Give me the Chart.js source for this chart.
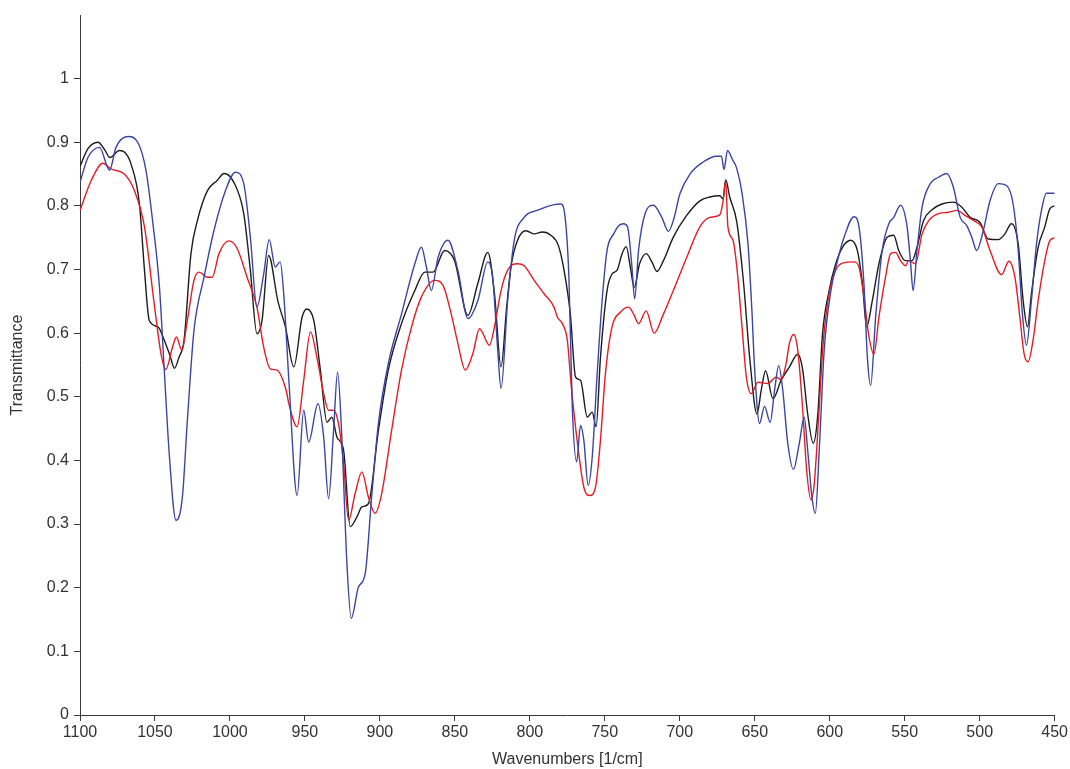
<!DOCTYPE html>
<html>
<head>
<meta charset="utf-8">
<script src="https://cdn.jsdelivr.net/npm/chart.js@4.4.1/dist/chart.umd.min.js"></script>
<style>
  html, body { margin: 0; padding: 0; background: #fff; }
  #wrap { width: 1070px; height: 769px; }
</style>
</head>
<body>
<div id="wrap"><canvas id="spectrum" width="1070" height="769"></canvas></div>
<script>
// wavenumbers [1/cm] and transmittance
const blackWn = [1100, 1094.7, 1088, 1083.5, 1080, 1073.7, 1070, 1066, 1060.4, 1057, 1053.8, 1048, 1043.8, 1040, 1037, 1034, 1030.6, 1026, 1021.7, 1015, 1008.5, 1004, 997.4, 990.8, 986.4, 982, 978.6, 974.2, 968, 963, 957.4, 951.9, 948.6, 944.1, 939.7, 935.3, 932, 928.7, 924.2, 919.8, 915.4, 912, 907.7, 901, 894.4, 885.6, 876.7, 870, 864.5, 856.8, 850.2, 841.3, 834.7, 828, 823.5, 819.2, 815.5, 812.6, 808.2, 802.6, 797, 791.6, 786, 781, 777.2, 773, 769.5, 766.2, 761.7, 758.4, 755.8, 752.9, 748.5, 745.2, 741.8, 738.5, 735.7, 733, 730.4, 726.8, 722.4, 718.6, 715.3, 710.9, 704.3, 695.4, 686.6, 680, 673.3, 671.1, 669.4, 666.7, 662, 657.5, 653.4, 648.5, 645.7, 642.8, 637.9, 632.4, 626.9, 621.3, 618, 614.7, 611, 608.1, 604.8, 600.4, 596, 591.5, 586, 581.6, 578.2, 575.4, 571.6, 567.2, 561.6, 557.3, 554, 549.5, 545.1, 541.8, 537.4, 531.8, 525.2, 517.5, 511.9, 506.4, 499.8, 494.3, 487.6, 483.2, 478.8, 474.3, 471, 468.1, 465.5, 461, 456.6, 453.3, 450];
const blackT = [0.862, 0.89, 0.90, 0.888, 0.876, 0.887, 0.884, 0.866, 0.804, 0.699, 0.62, 0.61, 0.589, 0.565, 0.545, 0.562, 0.589, 0.725, 0.777, 0.824, 0.84, 0.851, 0.837, 0.788, 0.699, 0.599, 0.62, 0.722, 0.65, 0.61, 0.547, 0.625, 0.638, 0.62, 0.542, 0.46, 0.468, 0.437, 0.416, 0.296, 0.311, 0.327, 0.332, 0.447, 0.542, 0.615, 0.667, 0.696, 0.696, 0.73, 0.714, 0.628, 0.678, 0.727, 0.66, 0.547, 0.64, 0.704, 0.746, 0.761, 0.756, 0.759, 0.754, 0.738, 0.699, 0.63, 0.531, 0.526, 0.468, 0.476, 0.453, 0.562, 0.667, 0.693, 0.699, 0.725, 0.736, 0.704, 0.672, 0.709, 0.725, 0.712, 0.697, 0.714, 0.751, 0.785, 0.808, 0.814, 0.816, 0.811, 0.841, 0.814, 0.775, 0.68, 0.562, 0.473, 0.51, 0.541, 0.497, 0.526, 0.547, 0.567, 0.542, 0.473, 0.427, 0.468, 0.599, 0.667, 0.709, 0.735, 0.746, 0.73, 0.678, 0.61, 0.651, 0.709, 0.751, 0.754, 0.73, 0.714, 0.714, 0.735, 0.777, 0.794, 0.803, 0.806, 0.798, 0.782, 0.774, 0.748, 0.747, 0.756, 0.772, 0.74, 0.651, 0.61, 0.662, 0.735, 0.767, 0.795, 0.80];

const redWn = [1100, 1092.5, 1084.7, 1079.2, 1070.4, 1063.7, 1057, 1050.5, 1046, 1042.8, 1038.3, 1035.7, 1032.1, 1028.4, 1024, 1020.6, 1015.1, 1011.8, 1007.3, 1000.7, 995.2, 988.6, 982, 977.5, 973.1, 968.7, 962.5, 960.7, 955.2, 950.8, 946.3, 942, 937.5, 934.2, 930.9, 927.6, 924.2, 920.9, 916.5, 912, 907.7, 903.2, 898.8, 892.2, 885.6, 878.9, 872.3, 863.5, 857.9, 852.4, 848, 843.1, 838, 833.6, 826.9, 823.6, 819.2, 814.8, 808.2, 803.8, 797.1, 790.5, 783.9, 781.6, 778.3, 775, 772.5, 768.4, 764, 760, 756.2, 752.9, 749.6, 745.2, 739.6, 734.1, 730.8, 727.5, 722.4, 717.1, 710.9, 704.3, 695.4, 686.6, 680, 673.3, 671.1, 669.4, 667.9, 664.5, 662, 658.5, 655.6, 652.3, 647.9, 641.3, 635.7, 632.4, 629.1, 626.9, 624, 621.3, 618, 615.4, 612.5, 610.3, 607.4, 604.4, 600.4, 596, 591.5, 583.8, 580.5, 577.2, 573.8, 570.5, 567.2, 562.8, 559.4, 556.1, 552.8, 549.5, 547.3, 542.9, 538.4, 534, 527.4, 520.8, 515.3, 509.7, 504.2, 498.6, 493.1, 485.4, 480.5, 476.5, 473.2, 470.4, 467.7, 464.4, 461, 456.6, 453.3, 450];
const redT = [0.793, 0.84, 0.867, 0.858, 0.85, 0.824, 0.767, 0.646, 0.568, 0.543, 0.578, 0.594, 0.573, 0.62, 0.683, 0.696, 0.688, 0.688, 0.725, 0.745, 0.733, 0.688, 0.641, 0.578, 0.544, 0.542, 0.51, 0.489, 0.453, 0.526, 0.602, 0.562, 0.505, 0.479, 0.479, 0.458, 0.395, 0.306, 0.348, 0.382, 0.343, 0.317, 0.348, 0.447, 0.542, 0.61, 0.657, 0.683, 0.675, 0.63, 0.584, 0.542, 0.568, 0.607, 0.581, 0.61, 0.667, 0.699, 0.709, 0.706, 0.683, 0.662, 0.641, 0.625, 0.615, 0.589, 0.52, 0.43, 0.358, 0.345, 0.358, 0.432, 0.536, 0.61, 0.633, 0.641, 0.63, 0.615, 0.635, 0.60, 0.63, 0.667, 0.719, 0.767, 0.782, 0.786, 0.808, 0.84, 0.767, 0.746, 0.705, 0.61, 0.531, 0.505, 0.523, 0.521, 0.531, 0.527, 0.552, 0.584, 0.598, 0.573, 0.479, 0.385, 0.338, 0.364, 0.468, 0.584, 0.662, 0.699, 0.71, 0.712, 0.704, 0.657, 0.594, 0.567, 0.625, 0.688, 0.725, 0.727, 0.714, 0.706, 0.714, 0.709, 0.756, 0.777, 0.788, 0.79, 0.793, 0.785, 0.777, 0.767, 0.73, 0.692, 0.713, 0.688, 0.625, 0.568, 0.555, 0.589, 0.651, 0.714, 0.745, 0.75];

const blueWn = [1100, 1094.7, 1087, 1080.3, 1076, 1068, 1061.5, 1056, 1051.6, 1047, 1043.8, 1040.5, 1036, 1031.7, 1028.4, 1024, 1017.3, 1010.7, 1003, 996.3, 990.8, 986.4, 982, 977.5, 973.8, 969.8, 966.5, 964, 960.7, 955.2, 950.8, 947.5, 941.3, 937.5, 934.2, 930.9, 928.2, 925.4, 922, 919.1, 914.3, 909.8, 905.5, 901, 894.4, 885.6, 876.7, 872.3, 869, 865.7, 861.2, 854.6, 848, 841.3, 834.7, 828, 824.8, 821.4, 819.2, 814.8, 810.4, 803.8, 795.1, 783.9, 779.4, 776.8, 773.9, 771.7, 768.8, 766.2, 764, 761.1, 758.4, 755.1, 751.8, 748.5, 744.1, 740.7, 737.4, 734.8, 731.9, 730.1, 727.5, 723.1, 717.5, 712, 707.6, 704.3, 699.9, 693.2, 684.4, 675.5, 672.2, 670.5, 668.2, 664.5, 662.3, 658.5, 654.5, 652, 650, 646.8, 643.5, 639.7, 636.8, 634, 631.3, 628, 624.2, 620.3, 617, 614.7, 611.9, 609.6, 607, 603.7, 599.2, 594.8, 590.4, 583.8, 580.5, 577.2, 574.9, 572.7, 569.4, 565, 560.6, 557.3, 552.8, 548.4, 546.2, 544.4, 541.8, 538.4, 532.9, 527.4, 521.9, 517.5, 513, 508.6, 505.3, 502, 497.6, 493.1, 487.6, 482.1, 477.7, 474.3, 471.7, 468.8, 465.5, 462.1, 458.8, 455.5, 450];
const blueT = [0.837, 0.876, 0.892, 0.856, 0.892, 0.909, 0.90, 0.856, 0.777, 0.672, 0.542, 0.411, 0.306, 0.343, 0.463, 0.604, 0.688, 0.761, 0.824, 0.853, 0.835, 0.751, 0.641, 0.693, 0.747, 0.704, 0.712, 0.657, 0.526, 0.345, 0.479, 0.429, 0.489, 0.437, 0.34, 0.447, 0.539, 0.437, 0.238, 0.152, 0.201, 0.222, 0.343, 0.458, 0.552, 0.63, 0.709, 0.735, 0.704, 0.667, 0.719, 0.746, 0.699, 0.623, 0.651, 0.712, 0.688, 0.573, 0.513, 0.651, 0.746, 0.782, 0.793, 0.802, 0.803, 0.788, 0.685, 0.484, 0.398, 0.455, 0.432, 0.361, 0.405, 0.536, 0.651, 0.73, 0.756, 0.769, 0.772, 0.767, 0.704, 0.654, 0.73, 0.788, 0.801, 0.782, 0.76, 0.777, 0.819, 0.85, 0.869, 0.878, 0.878, 0.857, 0.887, 0.871, 0.861, 0.82, 0.74, 0.64, 0.54, 0.458, 0.485, 0.46, 0.51, 0.549, 0.51, 0.427, 0.386, 0.427, 0.468, 0.416, 0.343, 0.317, 0.416, 0.573, 0.667, 0.714, 0.751, 0.783, 0.767, 0.678, 0.562, 0.518, 0.625, 0.73, 0.772, 0.782, 0.801, 0.767, 0.714, 0.667, 0.73, 0.798, 0.835, 0.845, 0.851, 0.829, 0.782, 0.769, 0.751, 0.73, 0.761, 0.808, 0.835, 0.832, 0.803, 0.73, 0.636, 0.581, 0.651, 0.74, 0.793, 0.82, 0.82];

function pairs(wn, t) {
    return wn.map((w, i) => ({ x: w, y: t[i] }));
}

function line(label, wn, t, color) {
    return {
        label: label,
        data: pairs(wn, t),
        borderColor: color,
        borderWidth: 1.4,
        pointRadius: 0,
        fill: false,
        cubicInterpolationMode: 'monotone'
    };
}

const axisColor = '#3a3a3a';
const tickFont = { family: 'Liberation Sans, Arial, sans-serif', size: 16 };

new Chart(document.getElementById('spectrum'), {
    type: 'line',
    data: {
        datasets: [
            line('Sample 3', blueWn, blueT, '#3b45a3'),
            line('Sample 2', redWn, redT, '#e51c23'),
            line('Sample 1', blackWn, blackT, '#1c1c1c')
        ]
    },
    options: {
        responsive: false,
        animation: false,
        layout: { padding: { top: 15, right: 14, left: 0, bottom: 0 } },
        plugins: { legend: { display: false }, tooltip: { enabled: false } },
        scales: {
            x: {
                type: 'linear',
                min: 450,
                max: 1100,
                reverse: true,
                afterFit: s => { s.height = 54; },
                ticks: {
                    stepSize: 50,
                    color: '#333',
                    font: tickFont,
                    padding: 2,
                    maxRotation: 0,
                    callback: v => String(v)
                },
                grid: { drawOnChartArea: false, drawTicks: true, tickLength: 6, color: axisColor },
                border: { display: true, color: axisColor, width: 1 },
                title: {
                    display: true,
                    text: 'Wavenumbers [1/cm]',
                    color: '#333',
                    font: tickFont,
                    padding: { top: 2, bottom: 0 }
                }
            },
            y: {
                min: 0,
                max: 1.1,
                afterFit: s => { s.width = 80; },
                afterBuildTicks: s => { s.ticks = s.ticks.filter(t => t.value <= 1.0001); },
                ticks: {
                    stepSize: 0.1,
                    color: '#333',
                    font: tickFont,
                    padding: 5,
                    callback: v => String(+v.toFixed(1))
                },
                grid: { drawOnChartArea: false, drawTicks: true, tickLength: 6, color: axisColor },
                border: { display: true, color: axisColor, width: 1 },
                title: {
                    display: true,
                    text: 'Transmittance',
                    color: '#333',
                    font: tickFont,
                    padding: { top: 8, bottom: 4 }
                }
            }
        }
    }
});
</script>
</body>
</html>
